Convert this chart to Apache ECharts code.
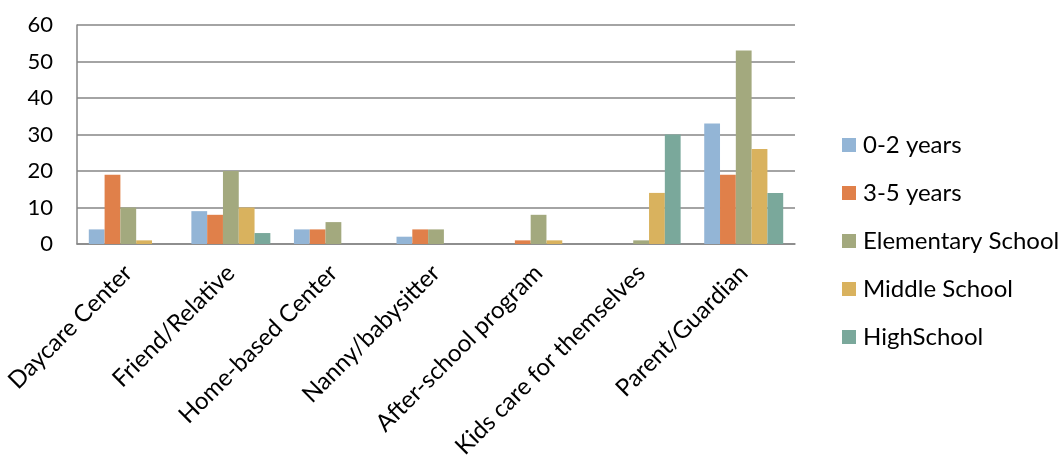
<!DOCTYPE html>
<html>
<head>
<meta charset="utf-8">
<script src="https://cdn.jsdelivr.net/npm/echarts@6/dist/echarts.min.js"></script>
<style>html,body{margin:0;padding:0;background:#fff;}#c{width:1063px;height:464px;}</style>
</head>
<body>
<div id="c"></div>
<script>
const categories = ["Daycare Center","Friend/Relative","Home-based Center","Nanny/babysitter","After-school program","Kids care for themselves","Parent/Guardian"];
const seriesNames = ["0-2 years","3-5 years","Elementary School","Middle School","HighSchool"];
const age0to2 = [4, 9, 4, 2, 0, 0, 33];
const age3to5 = [19, 8, 4, 4, 1, 0, 19];
const elementary = [10, 20, 6, 4, 8, 1, 53];
const middle = [1, 10, 0, 0, 1, 14, 26];
const high = [0, 3, 0, 0, 0, 30, 14];
const yTicks = [0, 10, 20, 30, 40, 50, 60];

const colors = ["#93b5d6","#e0804a","#a3a97e","#d9b25e","#7aa89b"];
const values = [age0to2, age3to5, elementary, middle, high];
const font = "Lato, 'Open Sans', sans-serif";

const chart = echarts.init(document.getElementById('c'));
chart.setOption({
  animation: false,
  textStyle: { fontFamily: font },
  grid: { left: 77, top: 25, right: 268, bottom: 220, containLabel: false },
  legend: {
    orient: 'vertical', left: 837, top: 128,
    itemWidth: 14, itemHeight: 14, itemGap: 24,
    icon: 'rect',
    textStyle: { fontSize: 24, color: '#000', fontFamily: font, padding: [0,0,0,2] },
    data: seriesNames
  },
  xAxis: {
    type: 'category', data: categories,
    axisLine: { lineStyle: { color: '#868686', width: 1.5 } },
    axisTick: { show: false },
    axisLabel: { rotate: 45, margin: 25, fontSize: 24, color: '#000', fontFamily: font, interval: 0 }
  },
  yAxis: {
    type: 'value', min: 0, max: 60, interval: 10,
    axisLine: { show: true, lineStyle: { color: '#868686', width: 1.5 } },
    axisTick: { show: false },
    splitLine: { lineStyle: { color: '#868686', width: 1.5 } },
    axisLabel: { fontSize: 22, color: '#000', margin: 24, fontFamily: font,
      formatter: v => yTicks.includes(v) ? String(v) : '' }
  },
  series: seriesNames.map((n, i) => ({
    name: n, type: 'bar', data: values[i],
    barGap: '0%', barCategoryGap: '23%',
    itemStyle: { color: colors[i], borderWidth: 0 }
  }))
});
</script>
</body>
</html>
